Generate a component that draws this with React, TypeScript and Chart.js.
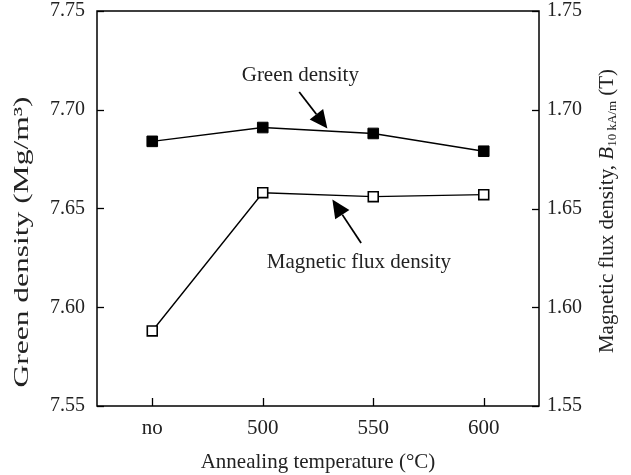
import React, { useEffect, useRef } from "react";
import { Chart, registerables } from "chart.js";
Chart.register(...registerables);

const categories = ["no", "500", "550", "600"];
const greenDensity = [7.684, 7.691, 7.688, 7.679];
const fluxDensity = [1.588, 1.658, 1.656, 1.657];
const leftRange = [7.55, 7.75];
const rightRange = [1.55, 1.75];
const tickStep = 0.05;

const xTitle = "Annealing temperature (°C)";
const leftTitle = "Green density (Mg/m³)";
const rightTitleParts = ["Magnetic flux density, ", "B", "10 kA/m", " (T)"];

// annotation anchors in data units: [category index, axis value]
const annotationTexts = ["Green density", "Magnetic flux density"];
const annotationAxes = ["y", "y1"];
const annotationTextAt = [[1.34, 7.7176], [1.87, 1.6229]];
const annotationFrom = [[1.33, 7.709], [1.89, 1.6325]];
const annotationTo = [[1.585, 7.6905], [1.63, 1.6545]];

const FONT = '"Liberation Serif", "Times New Roman", serif';

const framePlugin = {
  id: "framePlugin",
  afterDraw(chart: any) {
    const { ctx, chartArea: a, scales } = chart;
    const xs = scales.x;
    const yl = scales.y;
    const yr = scales.y1;
    ctx.save();
    ctx.strokeStyle = "#000";
    ctx.lineWidth = 1.5;
    ctx.strokeRect(a.left, a.top, a.right - a.left, a.bottom - a.top);
    ctx.lineWidth = 1.3;
    categories.forEach((_, i) => {
      const px = Math.round(xs.getPixelForTick(i)) + 0.5;
      ctx.beginPath();
      ctx.moveTo(px, a.bottom);
      ctx.lineTo(px, a.bottom - 8);
      ctx.stroke();
    });
    yl.ticks.forEach((t: any) => {
      const py = Math.round(yl.getPixelForValue(t.value)) + 0.5;
      ctx.beginPath();
      ctx.moveTo(a.left, py);
      ctx.lineTo(a.left + 7, py);
      ctx.stroke();
    });
    yr.ticks.forEach((t: any) => {
      const py = Math.round(yr.getPixelForValue(t.value)) + 0.5;
      ctx.beginPath();
      ctx.moveTo(a.right, py);
      ctx.lineTo(a.right - 7, py);
      ctx.stroke();
    });

    ctx.fillStyle = "#222";
    ctx.font = `21px ${FONT}`;
    ctx.textAlign = "center";
    ctx.textBaseline = "middle";
    ctx.fillText(xTitle, (a.left + a.right) / 2, 462);

    // left title (elongated along its direction, as in the reference)
    ctx.save();
    ctx.font = `21px ${FONT}`;
    ctx.translate(22, 242);
    ctx.rotate(-Math.PI / 2);
    ctx.scale(1.5, 1);
    ctx.fillText(leftTitle, 0, 0);
    ctx.restore();

    // right title with italic B and subscript
    ctx.save();
    ctx.translate(607, 211);
    ctx.rotate(-Math.PI / 2);
    ctx.textAlign = "left";
    ctx.textBaseline = "middle";
    const fonts = [`21px ${FONT}`, `italic 21px ${FONT}`, `13px ${FONT}`, `21px ${FONT}`];
    const widths = rightTitleParts.map((p, i) => {
      ctx.font = fonts[i];
      return ctx.measureText(p).width;
    });
    const total = widths.reduce((s, w) => s + w, 0);
    let cx = -total / 2;
    rightTitleParts.forEach((p, i) => {
      ctx.font = fonts[i];
      ctx.fillText(p, cx, i === 2 ? 6 : 0);
      cx += widths[i];
    });
    ctx.restore();

    const p0 = xs.getPixelForValue(0);
    const p1 = xs.getPixelForValue(1);
    const xp = (i: number) => p0 + i * (p1 - p0);
    annotationTexts.forEach((txt, k) => {
      const sc = scales[annotationAxes[k]];
      const tx = xp(annotationTextAt[k][0]);
      const ty = sc.getPixelForValue(annotationTextAt[k][1]);
      ctx.font = `21px ${FONT}`;
      ctx.textAlign = "center";
      ctx.textBaseline = "middle";
      ctx.fillStyle = "#222";
      ctx.fillText(txt, tx, ty);
      const fx = xp(annotationFrom[k][0]);
      const fy = sc.getPixelForValue(annotationFrom[k][1]);
      const ex = xp(annotationTo[k][0]);
      const ey = sc.getPixelForValue(annotationTo[k][1]);
      const ang = Math.atan2(ey - fy, ex - fx);
      const headLen = 18;
      const headW = 8.5;
      const bx = ex - headLen * Math.cos(ang);
      const by = ey - headLen * Math.sin(ang);
      ctx.strokeStyle = "#000";
      ctx.lineWidth = 1.8;
      ctx.beginPath();
      ctx.moveTo(fx, fy);
      ctx.lineTo(bx, by);
      ctx.stroke();
      ctx.fillStyle = "#000";
      ctx.beginPath();
      ctx.moveTo(ex, ey);
      ctx.lineTo(bx + headW * Math.sin(ang), by - headW * Math.cos(ang));
      ctx.lineTo(bx - headW * Math.sin(ang), by + headW * Math.cos(ang));
      ctx.closePath();
      ctx.fill();
    });
    ctx.restore();
  },
};

export default function App() {
  const ref = useRef<HTMLCanvasElement | null>(null);
  useEffect(() => {
    if (!ref.current) return;
    const fitY = (w: number) => (s: any) => {
      s.width = w;
      s.paddingTop = 0;
      s.paddingBottom = 0;
    };
    const chart = new Chart(ref.current, {
      type: "line",
      data: {
        labels: categories,
        datasets: [
          {
            label: "Green density",
            data: greenDensity,
            yAxisID: "y",
            borderColor: "#000",
            borderWidth: 1.4,
            pointStyle: "rect",
            pointRadius: 7.5,
            pointBackgroundColor: "#000",
            pointBorderColor: "#000",
            pointBorderWidth: 1,
            tension: 0,
          },
          {
            label: "Magnetic flux density",
            data: fluxDensity,
            yAxisID: "y1",
            borderColor: "#000",
            borderWidth: 1.4,
            pointStyle: "rect",
            pointRadius: 7,
            pointBackgroundColor: "#fff",
            pointBorderColor: "#000",
            pointBorderWidth: 1.6,
            tension: 0,
          },
        ],
      },
      options: {
        responsive: false,
        animation: false,
        layout: { padding: { top: 11, left: 0, right: 0, bottom: 0 } },
        plugins: { legend: { display: false }, tooltip: { enabled: false } },
        scales: {
          x: {
            type: "category",
            offset: true,
            grid: { display: false, drawTicks: false },
            border: { display: false },
            ticks: { color: "#222", font: { family: FONT, size: 21 }, padding: 10 },
            afterFit: (s: any) => {
              s.height = 69;
              s.paddingLeft = 0;
              s.paddingRight = 0;
            },
          },
          y: {
            position: "left",
            min: leftRange[0],
            max: leftRange[1],
            grid: { display: false, drawTicks: false },
            border: { display: false },
            ticks: {
              stepSize: tickStep,
              color: "#222",
              font: { family: FONT, size: 20 },
              padding: 12,
              callback: (v: any) => Number(v).toFixed(2),
            },
            afterFit: fitY(97),
          },
          y1: {
            position: "right",
            min: rightRange[0],
            max: rightRange[1],
            grid: { display: false, drawTicks: false },
            border: { display: false },
            ticks: {
              stepSize: tickStep,
              color: "#222",
              font: { family: FONT, size: 20 },
              padding: 8,
              callback: (v: any) => Number(v).toFixed(2),
            },
            afterFit: fitY(92),
          },
        },
      },
      plugins: [framePlugin],
    } as any);
    return () => chart.destroy();
  }, []);
  return (
    <div style={{ position: "absolute", left: 0, top: 0, width: 631, height: 475, background: "#fff" }}>
      <canvas ref={ref} width={631} height={475} />
    </div>
  );
}
